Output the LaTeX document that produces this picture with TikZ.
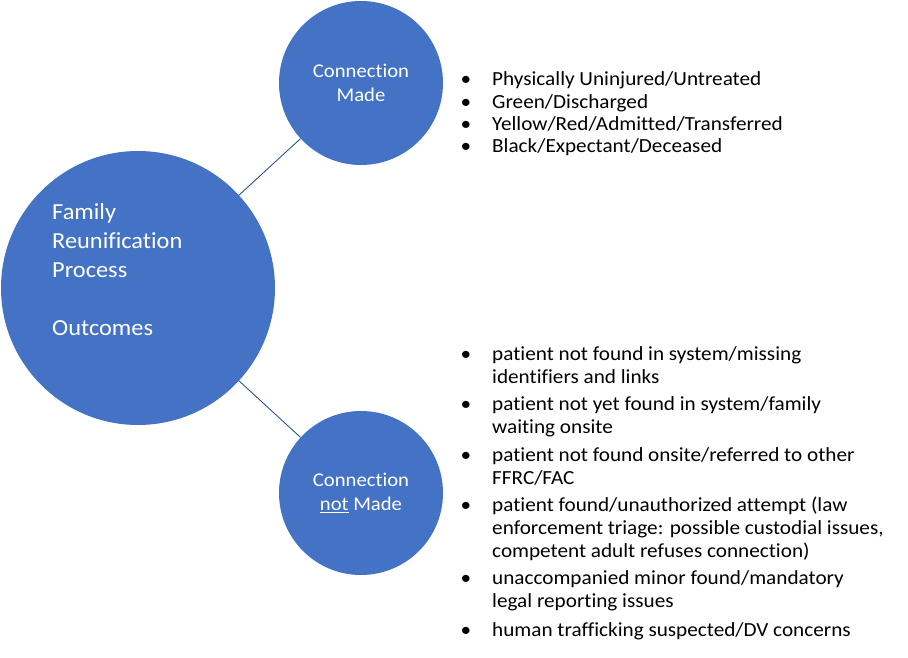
\documentclass[tikz,border=0pt]{standalone}
\usepackage{fontspec}
\setmainfont{Carlito}[FakeStretch=1.06, Ligatures=NoCommon]
\usetikzlibrary{positioning}

\definecolor{frpblue}{HTML}{4472C4}
\definecolor{linkblue}{HTML}{2F5597}

% lines stacked from the baseline of the first one
\newcommand{\textlines}[1]{\begin{tabular}[t]{@{}l@{}}#1\end{tabular}}

\tikzset{
  bubble/.style={circle, fill=frpblue, inner sep=0pt, text=white, align=center},
  link/.style={draw=linkblue, line width=0.9pt},
  bigtxt/.style={text=white, inner sep=0pt, anchor=base west, font=\fontsize{23}{29}\selectfont},
  smalltxt/.style={font=\fontsize{19.5}{23.5}\selectfont},
  itemtxt/.style={inner sep=0pt, anchor=base west, font=\fontsize{20}{23}\selectfont},
  dot/.style={inner sep=0pt, anchor=base, font=\fontsize{20}{23}\selectfont}
}

\begin{document}
\begin{tikzpicture}[x=1pt,y=-1pt]
  \useasboundingbox (0,0) rectangle (908,658);

  % Circles
  \node[bubble, minimum size=274pt] (frp) at (138,288) {};
  \node[bigtxt] (frptxt) at (52,219) {\textlines{Family\\Reunification\\Process\\ \\Outcomes}};
  \node[bubble, smalltxt, minimum size=164pt] (made) at (361,83) {Connection\\Made};
  \node[bubble, smalltxt, minimum size=164pt] (notmade) at (361,493) {Connection\\\underline{not} Made};

  % Links
  \draw[link] (frp) -- (made);
  \draw[link] (frp) -- (notmade);

  % Outcomes of a connection
  \foreach \y/\txt [count=\i] in {86/{Physically Uninjured/Untreated}, 108.3/{Green/Discharged},
      130.3/{Yellow/Red/Admitted/Transferred}, 152.3/{Black/Expectant/Deceased}} {
    \node[dot] (madedot-\i) at (466,\y) {•};
    \node[itemtxt] (madeitem-\i) at (492,\y) {\textlines{\txt}};
  }

  % Outcomes of no connection
  \foreach \y/\txt [count=\i] in {360/{patient not found in system/missing\\identifiers and links},
      410/{patient not yet found in system/family\\waiting onsite},
      461.5/{patient not found onsite/referred to other\\FFRC/FAC},
      511.5/{patient found/unauthorized attempt (law\\enforcement triage: possible custodial issues,\\competent adult refuses connection)},
      584/{unaccompanied minor found/mandatory\\legal reporting issues},
      636.5/{human trafficking suspected/DV concerns}} {
    \node[dot] (notdot-\i) at (466,\y) {•};
    \node[itemtxt] (notitem-\i) at (492,\y) {\textlines{\txt}};
  }
\end{tikzpicture}
\end{document}
